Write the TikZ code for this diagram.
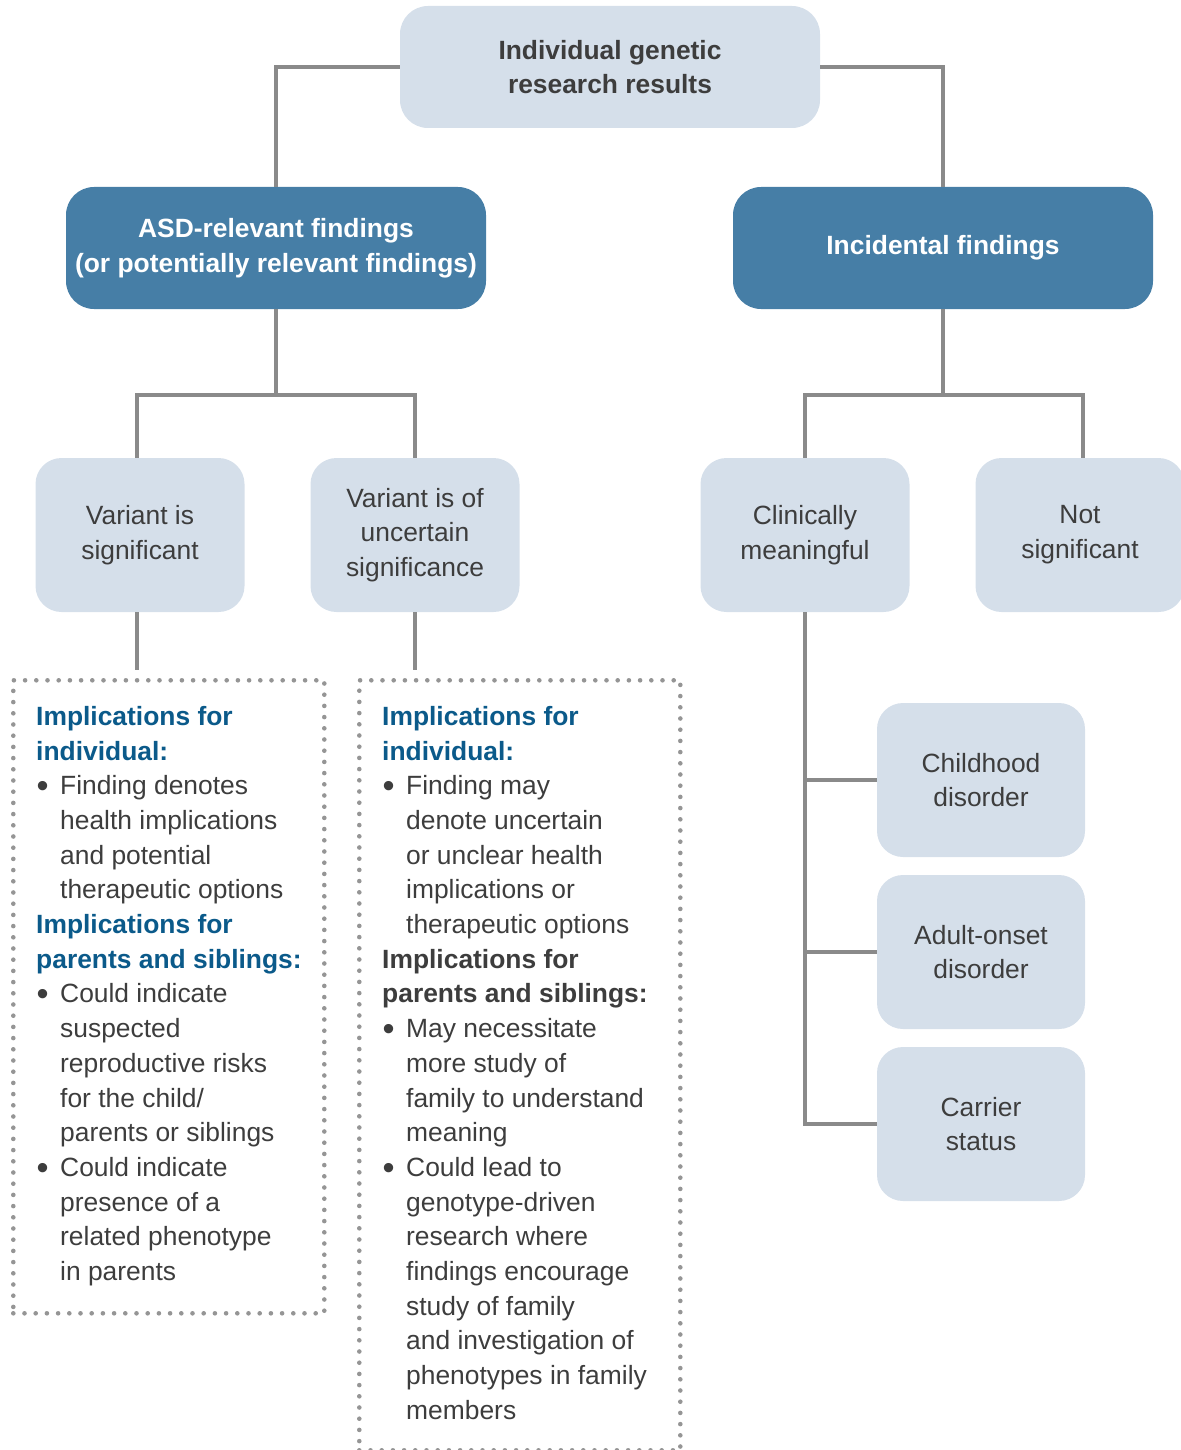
\documentclass[tikz,border=0pt]{standalone}
\usepackage{fontspec}
\setmainfont{Liberation Sans}
\usepackage{xcolor}
\usetikzlibrary{positioning,calc}

\definecolor{boxlight}{HTML}{D5DFEA}
\definecolor{boxdark}{HTML}{467EA6}
\definecolor{linegray}{HTML}{8A8A8A}
\definecolor{dotgray}{HTML}{959595}
\definecolor{headblue}{HTML}{0B5A8A}
\definecolor{txtgray}{HTML}{3D3D3D}

\newcommand{\bpt}{\makebox[24pt][l]{\hspace*{0.5pt}\raisebox{-2.8pt}{\scalebox{1.3}{\textbullet}}}}
\newcommand{\itind}{\hspace*{24pt}}
\newcommand{\hd}[1]{\textcolor{headblue}{\bfseries #1}}

\begin{document}
\begin{tikzpicture}[
      x=1pt, y=-1pt,
      every node/.style={font=\fontsize{26.4}{34.7}\selectfont, text=txtgray},
      light/.style={fill=boxlight, rounded corners=26pt, minimum width=209pt, minimum height=154pt, align=center, inner sep=0pt},
      topbox/.style={fill=boxlight, rounded corners=28pt, minimum width=420pt, minimum height=122pt, align=center, font=\fontsize{26.4}{34}\selectfont\bfseries},
      dark/.style={fill=boxdark, rounded corners=28pt, minimum width=420pt, minimum height=122pt, align=center, text=white, font=\fontsize{26.4}{35}\selectfont\bfseries},
      dotbox/.style={draw=dotgray, line width=4.6pt, dash pattern=on 0pt off 11.2pt, line cap=round, anchor=north west, inner sep=0pt},
      implic/.style={anchor=north west, align=left, inner sep=0pt},
      conn/.style={draw=linegray, line width=4.5pt}
  ]
      \useasboundingbox (0,0) rectangle (1180,1450);

      % Top level
      \node[topbox] (res) at (610,67) {Individual genetic\\research results};
      \node[dark] (asd) at (276,248) {ASD-relevant findings\\(or potentially relevant findings)};
      \node[dark] (inc) at (943,248) {Incidental findings};

      % Second level
      \node[light] (sig) at (140,535) {Variant is\\significant};
      \node[light] (unc) at (415,535) {Variant is of\\uncertain\\significance};
      \node[light] (clin) at (805,535) {Clinically\\meaningful};
      \node[light] (nsig) at (1080,535) {Not\\significant};

      % Incidental subtypes
      \node[light, minimum width=208pt] (child) at (981,780) {Childhood\\disorder};
      \node[light, minimum width=208pt] (adult) at (981,952) {Adult-onset\\disorder};
      \node[light, minimum width=208pt] (carr) at (981,1124) {Carrier\\status};

      % Dotted boxes
      \node[dotbox, minimum width=311pt, minimum height=633pt] (box1) at (11,678) {};
      \node[dotbox, minimum width=321pt, minimum height=770pt] (box2) at (357,678) {};

      \node[implic] (txt1) at ($(box1.north west)+(25,28)$) {
          \hd{Implications for}\\
          \hd{individual:}\\
          \bpt Finding denotes\\
          \itind health implications\\
          \itind and potential\\
          \itind therapeutic options\\
          \hd{Implications for}\\
          \hd{parents and siblings:}\\
          \bpt Could indicate\\
          \itind suspected\\
          \itind reproductive risks\\
          \itind for the child/\\
          \itind parents or siblings\\
          \bpt Could indicate\\
          \itind presence of a\\
          \itind related phenotype\\
          \itind in parents
      };

      \node[implic] (txt2) at ($(box2.north west)+(25,28)$) {
          \hd{Implications for}\\
          \hd{individual:}\\
          \bpt Finding may\\
          \itind denote uncertain\\
          \itind or unclear health\\
          \itind implications or\\
          \itind therapeutic options\\
          \textbf{Implications for}\\
          \textbf{parents and siblings:}\\
          \bpt May necessitate\\
          \itind more study of\\
          \itind family to understand\\
          \itind meaning\\
          \bpt Could lead to\\
          \itind genotype-driven\\
          \itind research where\\
          \itind findings encourage\\
          \itind study of family\\
          \itind and investigation of\\
          \itind phenotypes in family\\
          \itind members
      };

      % Connectors
      \coordinate (asdj) at (asd.south |- 0,395);
      \coordinate (incj) at (inc.south |- 0,395);
      \coordinate (clinj) at (clin.south |- carr.west);

      \draw[conn] (res.west) -| (asd.north);
      \draw[conn] (res.east) -| (inc.north);
      \draw[conn] (asd.south) -- (asdj);
      \draw[conn] ([xshift=-3pt]sig.north) |- (asdj) -| (unc.north);
      \draw[conn] (inc.south) -- (incj);
      \draw[conn] (clin.north) |- (incj) -| ([xshift=3pt]nsig.north);
      \draw[conn, shorten >=8pt] ([xshift=-3pt]sig.south) -- ([xshift=-3pt]sig.south |- box1.north);
      \draw[conn, shorten >=8pt] (unc.south) -- (unc.south |- box2.north);
      \draw[conn] (clin.south) -- (clinj) -- (carr.west);
      \draw[conn] (clin.south |- child.west) -- (child.west);
      \draw[conn] (clin.south |- adult.west) -- (adult.west);
  \end{tikzpicture}
\end{document}
